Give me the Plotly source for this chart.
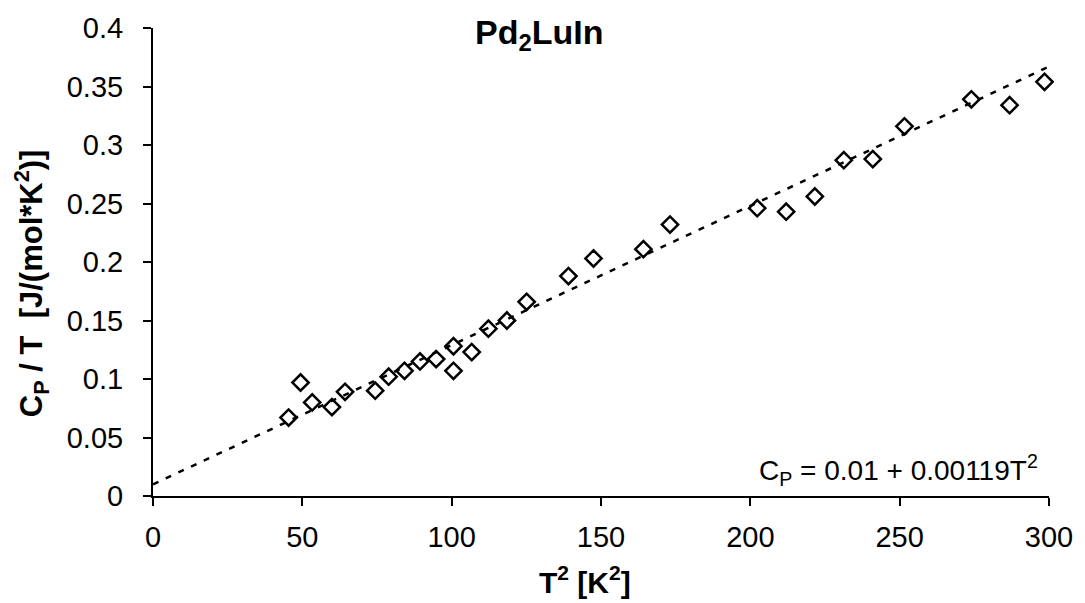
import plotly.graph_objects as go

# Measured specific heat of Pd2LuIn, plotted as Cp/T against T^2
t_squared = [45.4, 49.4, 53.3, 59.9, 64.3, 74.4, 78.9, 84.2, 89.4, 94.8,
             100.6, 100.6, 106.7, 112.3, 118.5, 125.1, 139.1, 147.5, 164.2,
             173.1, 202.3, 212.0, 221.6, 231.3, 241.0, 251.6, 274.0, 286.8,
             298.5]
cp_over_t = [0.067, 0.097, 0.080, 0.076, 0.089, 0.090, 0.102, 0.107, 0.115,
             0.117, 0.128, 0.107, 0.123, 0.143, 0.150, 0.166, 0.188, 0.203,
             0.211, 0.232, 0.246, 0.243, 0.256, 0.287, 0.288, 0.316, 0.339,
             0.334, 0.354]

# Linear fit Cp/T = gamma + beta * T^2
gamma = 0.01
beta = 0.00119
fit_x = [0, 300]
fit_y = [gamma + beta * x for x in fit_x]

x_ticks = [0, 50, 100, 150, 200, 250, 300]
y_ticks = [0, 0.05, 0.1, 0.15, 0.2, 0.25, 0.3, 0.35, 0.4]

font_family = "Liberation Sans, Arial, sans-serif"

fig = go.Figure()
fig.add_trace(go.Scatter(
    x=fit_x, y=fit_y, mode="lines",
    line=dict(color="black", width=2.5, dash="6px,8px"),
    hoverinfo="skip", showlegend=False,
))
fig.add_trace(go.Scatter(
    x=t_squared, y=cp_over_t, mode="markers",
    marker=dict(symbol="diamond-open", size=12.5, color="black",
                line=dict(color="black", width=2.5)),
    showlegend=False, cliponaxis=False,
))

# Chart title
fig.add_annotation(
    x=0.431, y=1.0, xref="paper", yref="paper",
    xanchor="center", yanchor="middle", yshift=-6,
    text="<b>Pd<sub>2</sub>LuIn</b>", showarrow=False,
    font=dict(family=font_family, size=34, color="black"),
)
# Fit equation
fig.add_annotation(
    x=297, y=0.022, xref="x", yref="y", xanchor="right", yanchor="middle",
    text="C<sub>P</sub> = 0.01 + 0.00119T<sup>2</sup>", showarrow=False,
    font=dict(family=font_family, size=28, color="black"),
)
# Axis titles
fig.add_annotation(
    x=-0.136, y=0.455, xref="paper", yref="paper",
    xanchor="center", yanchor="middle", textangle=-90,
    text="<b>C<sub>P</sub> / T  [J/(mol*K<sup>2</sup>)]</b>", showarrow=False,
    font=dict(family=font_family, size=31, color="black"),
)
fig.add_annotation(
    x=0.482, y=-0.18, xref="paper", yref="paper",
    xanchor="center", yanchor="middle",
    text="<b>T<sup>2</sup> [K<sup>2</sup>]</b>", showarrow=False,
    font=dict(family=font_family, size=30, color="black"),
)

axis_common = dict(
    showgrid=False, zeroline=False, showline=True, linecolor="black",
    linewidth=2, ticks="outside", ticklen=8, tickwidth=2, tickcolor="black",
    tickfont=dict(family=font_family, size=29, color="black"),
    mirror=False,
)

fig.update_xaxes(
    range=[0, 300], tickvals=x_ticks, ticktext=[str(v) for v in x_ticks],
    ticklabelstandoff=6, **axis_common,
)
fig.update_yaxes(
    range=[0, 0.4], tickvals=y_ticks, ticktext=[f"{v:g}" for v in y_ticks],
    ticklabelstandoff=14, **axis_common,
)

fig.update_layout(
    width=1085, height=603,
    margin=dict(l=153, r=35, t=23, b=107),
    plot_bgcolor="white", paper_bgcolor="white",
    font=dict(family=font_family, color="black"),
)

fig.write_html("out.html")
